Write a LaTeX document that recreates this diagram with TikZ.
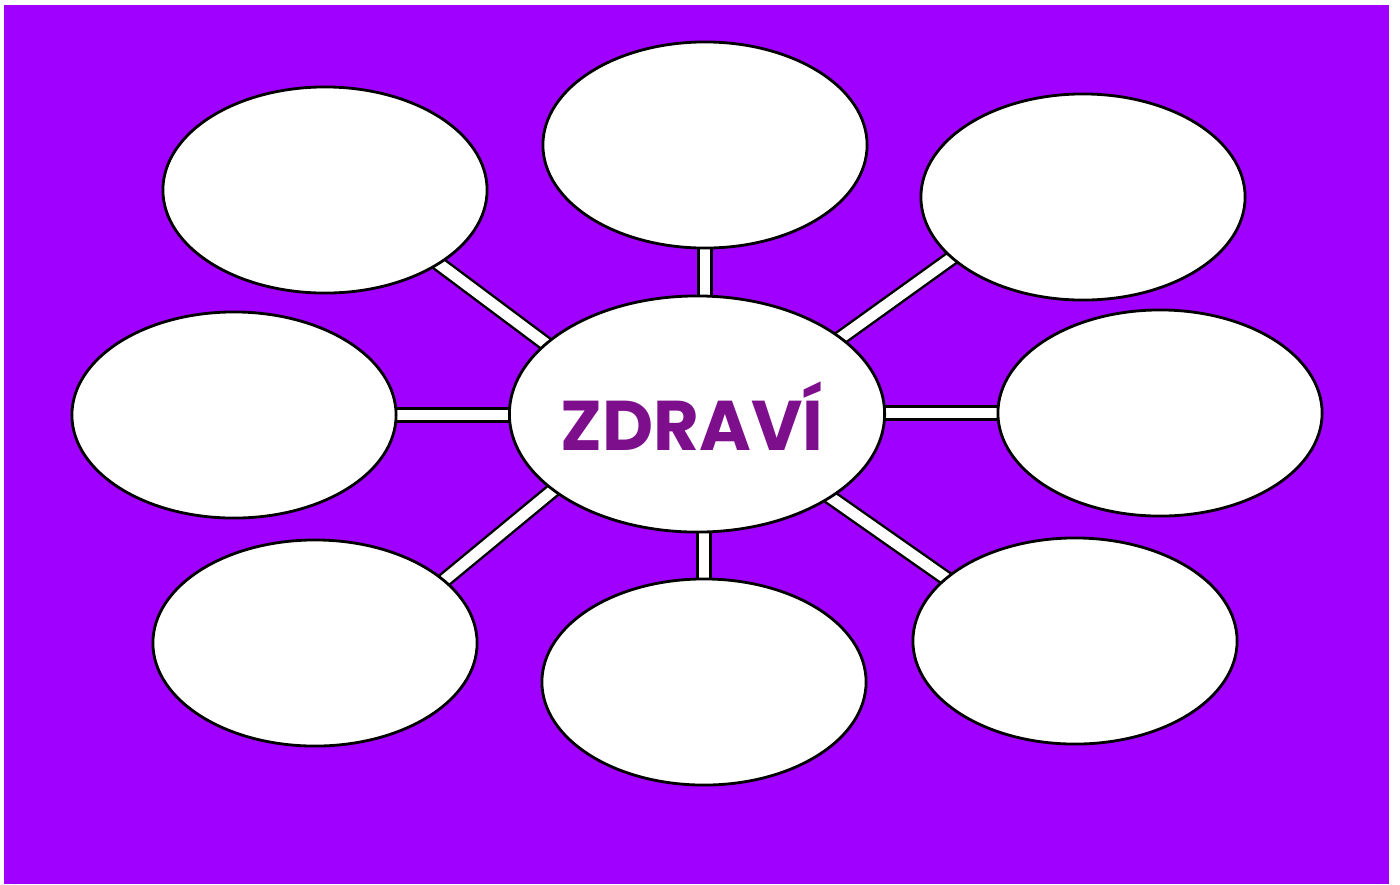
\documentclass[tikz,border=0pt]{standalone}
\usepackage{fontspec}
\newfontfamily\zfont{Poppins}
\usetikzlibrary{shapes.geometric,backgrounds}

\definecolor{bgpurple}{RGB}{160,0,255}
\definecolor{txtpurple}{RGB}{125,15,140}

\tikzset{
    bubble/.style={ellipse, draw=black, line width=0.8pt, fill=white,
        minimum width=3.24cm, minimum height=2.06cm, inner sep=0pt},
    hub/.style={bubble, minimum width=3.75cm, minimum height=2.36cm},
    link/.style={draw=black, line width=0.7pt, double=white, double distance=3.1pt,
        shorten <=-0.3cm, shorten >=-0.3cm},
}

\begin{document}
\begin{tikzpicture}[x=0.01cm, y=-0.01cm]
        \useasboundingbox (0, 0) rectangle (1400, 884);
        
        % Bubbles
        \node[hub] (c) at (697, 414) {};
        \node[text=txtpurple, font=\zfont\bfseries\fontsize{20}{24}\selectfont] (title) at (692, 416) {ZDRAVÍ};
        \foreach \n/\x/\y in {tl/325/190, tc/705/145, tr/1083/197, ml/234/415,
                              mr/1160/413, bl/315/643, bc/704/682, br/1075/641} {
            \node[bubble] (\n) at (\x, \y) {};
        }
        
        % Background and links
        \begin{scope}[on background layer]
            \fill[white] (0, 0) rectangle (1400, 884);
            \fill[bgpurple] (4, 5) rectangle (1389, 884);
            %% |
            \draw[link] (tc.south) -- (tc.south |- c.north);
            \draw[link] (bc.north) -- (bc.north |- c.south);
            %% -
            \draw[link] (ml.east) -- (c.west |- ml.east);
            \draw[link] (c.east |- mr.west) -- (mr.west);
            %% / and \
            \draw[link] (c.155) -- (tl.327);
            \draw[link] (c.28) -- (tr.205);
            \draw[link] (c.208) -- (bl.26);
            \draw[link] (c.328) -- (br.154);
        \end{scope}
\end{tikzpicture}
\end{document}
